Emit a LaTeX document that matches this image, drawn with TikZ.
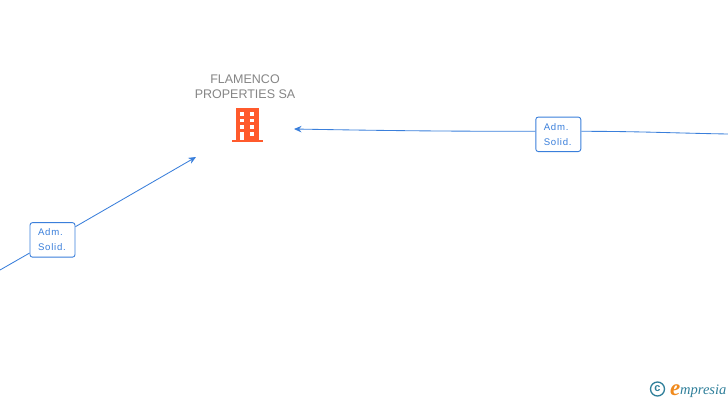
\documentclass[tikz,border=0pt]{standalone}
\usepackage{fontspec}
\setmainfont{Liberation Sans}
\newfontfamily\admfont[LetterSpace=8]{Liberation Sans}
\newfontfamily\logofont{Liberation Serif}
\usetikzlibrary{arrows.meta}
\definecolor{linkblue}{HTML}{3A7FDB}
\definecolor{fpgrey}{HTML}{858585}
\definecolor{fporange}{HTML}{FF5A2C}
\definecolor{logoteal}{HTML}{2F7F9A}
\definecolor{logoorange}{HTML}{F08A1D}
\tikzset{
  admbox/.style={draw=linkblue,fill=white,rounded corners=2.5pt,line width=.9pt,
    minimum width=45pt,minimum height=34.5pt,inner sep=0pt,align=left,
    text=linkblue,text width=29pt,font=\admfont\fontsize{9.6pt}{15pt}\selectfont},
  fplabel/.style={text=fpgrey,align=center,inner sep=0pt,
    font=\fontsize{12.5pt}{14.5pt}\selectfont},
  link/.style={draw=linkblue,line width=.85pt},
  window/.style={fill=white,draw=none}
}
\begin{document}
\begin{tikzpicture}[x=1pt,y=-1pt,>={Stealth[length=7.5pt,width=6.5pt]}]
  \useasboundingbox (0,0) rectangle (728,400);

  \node[fplabel] (FP) at (245,86.5) {FLAMENCO\\PROPERTIES SA};
  \node[admbox] (adm1) at (558.3,134.3) {Adm.\\Solid.};
  \node[admbox] (adm2) at (52.5,239.9) {Adm.\\Solid.};

  \coordinate (rightEnd) at (728,134);
  \coordinate (leftEnd) at (0,270);
  \coordinate (fpRight) at (294,129);
  \coordinate (fpLeft) at (196,157);

  \draw[link] (rightEnd) to[out=179,in=0] ([yshift=3pt]adm1.east);
  \draw[link,->] ([yshift=3pt]adm1.west) to[out=180,in=359] (fpRight);
  \draw[link] (leftEnd) -- (adm2);
  \draw[link,->] (adm2) -- (fpLeft);

  % building
  \fill[fporange] (236,108) rectangle (258.5,140);
  \fill[fporange] (232,139.5) rectangle (263,142);
  \foreach \wy in {112,118.7,125.3} {
    \fill[window] (240,\wy) rectangle (244.3,\wy+3.7);
    \fill[window] (249.5,\wy) rectangle (254,\wy+3.7);
  }
  \fill[window] (240,132) rectangle (244.3,139.5);
  \fill[window] (249.5,132) rectangle (254,135.7);

  % logo
  \node[circle,draw=logoteal,line width=1.3pt,minimum size=14pt,inner sep=0pt,
        text=logoteal,font=\bfseries\fontsize{11pt}{11pt}\selectfont] (copy) at (657.5,389) {c};
  \node[inner sep=0pt,anchor=base west,text=logoorange,
        font=\logofont\itshape\bfseries\fontsize{23pt}{23pt}\selectfont] (logoE) at (670,395) {e};
  \node[inner sep=0pt,anchor=base west,text=logoteal,
        font=\logofont\itshape\fontsize{14.5pt}{14pt}\selectfont] (logoT) at (680,394) {mpresia};
\end{tikzpicture}
\end{document}
